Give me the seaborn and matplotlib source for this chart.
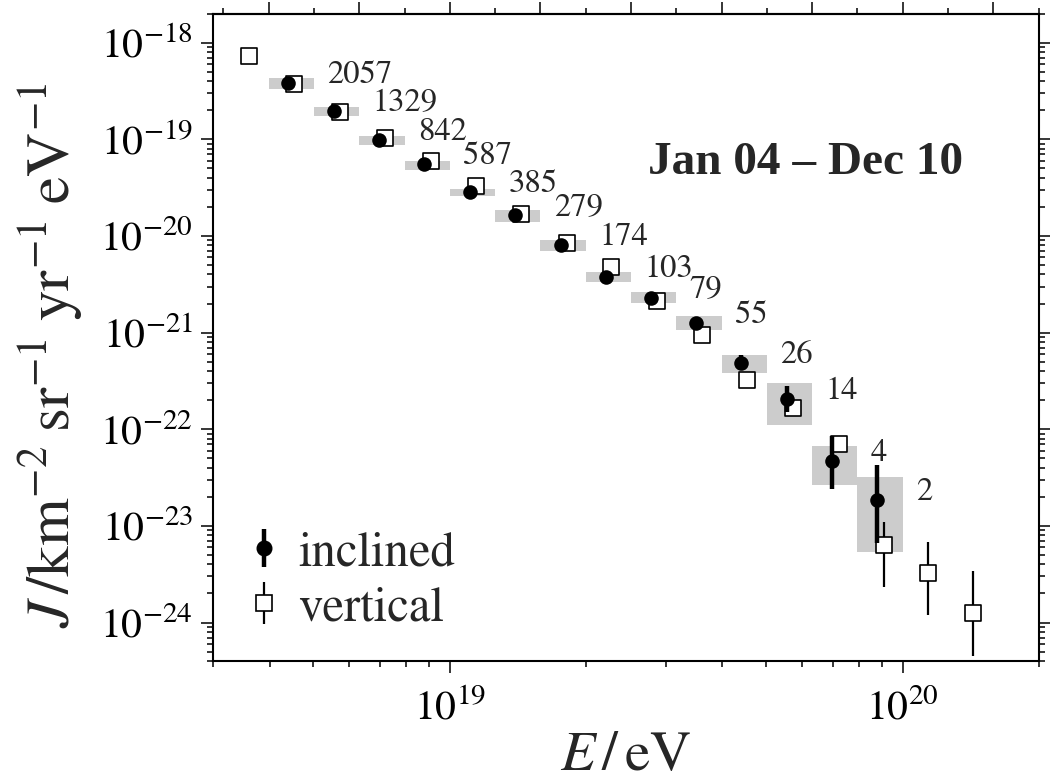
import numpy as np
import matplotlib
matplotlib.use("Agg")
import matplotlib.pyplot as plt
import seaborn as sns
from matplotlib.lines import Line2D
from matplotlib.ticker import LogLocator, NullFormatter, LogFormatterSciNotation, MultipleLocator, FixedLocator

# ---------------- data (log10 values) ----------------
# inclined events: mean energy, flux
inc_log_e = [18.643, 18.744, 18.844, 18.943, 19.044, 19.144, 19.245,
             19.344, 19.444, 19.544, 19.643, 19.744, 19.844, 19.943]
inc_log_j = [-18.414, -18.706, -19.006, -19.258, -19.547, -19.782, -20.092,
             -20.420, -20.637, -20.896, -21.316, -21.685, -22.333, -22.729]
# statistical error bar ends (log10 J)
inc_stat_lo = [-18.424, -18.718, -19.021, -19.276, -19.569, -19.808, -20.125,
               -20.463, -20.687, -20.956, -21.385, -21.826, -22.618, -23.177]
inc_stat_hi = [-18.404, -18.694, -18.991, -19.240, -19.525, -19.756, -20.059,
               -20.377, -20.587, -20.836, -21.230, -21.551, -22.074, -22.374]
# systematic band (log10 J) and bin edges (log10 E)
inc_sys_lo = [-18.479, -18.755, -19.058, -19.316, -19.582, -19.851, -20.154,
              -20.472, -20.695, -20.971, -21.419, -21.953, -22.581, -23.270]
inc_sys_hi = [-18.368, -18.668, -18.962, -19.220, -19.513, -19.730, -20.040,
              -20.368, -20.581, -20.826, -21.230, -21.522, -22.171, -22.498]
bin_lo_log_e = [18.6, 18.7, 18.8, 18.9, 19.0, 19.1, 19.2,
                19.3, 19.4, 19.5, 19.6, 19.7, 19.8, 19.9]
bin_hi_log_e = [18.7, 18.8, 18.9, 19.0, 19.1, 19.2, 19.3,
                19.4, 19.5, 19.6, 19.7, 19.8, 19.9, 20.0]
inc_counts = [2057, 1329, 842, 587, 385, 279, 174, 103, 79, 55, 26, 14, 4, 2]

# vertical events
vert_log_e = [18.556, 18.657, 18.757, 18.856, 18.958, 19.057, 19.157, 19.258,
              19.357, 19.457, 19.556, 19.656, 19.757, 19.860, 19.958, 20.057, 20.156]
vert_log_j = [-18.138, -18.430, -18.720, -18.989, -19.223, -19.482, -19.771, -20.074,
              -20.316, -20.668, -21.023, -21.488, -21.781, -22.153, -23.202, -23.487, -23.901]
vert_err_lo = [-18.143, -18.436, -18.727, -18.998, -19.234, -19.497, -19.790, -20.100,
               -20.350, -20.715, -21.085, -21.570, -21.850, -22.240, -23.632, -23.918, -24.342]
vert_err_hi = [-18.133, -18.424, -18.713, -18.980, -19.212, -19.467, -19.752, -20.048,
               -20.282, -20.621, -20.961, -21.406, -21.712, -22.066, -22.960, -23.166, -23.470]

x_limits = (3e18, 2e20)
y_limits = (4e-25, 2e-18)
x_decades = [1e19, 1e20]
y_decades = [1e-24, 1e-23, 1e-22, 1e-21, 1e-20, 1e-19, 1e-18]
period_text = "Jan 04 – Dec 10"
legend_labels = ["inclined", "vertical"]

# ---------------- style ----------------
sns.set_theme(style="ticks")
plt.rcParams.update({
    "font.family": ["STIXGeneral", "DejaVu Serif"],
    "mathtext.fontset": "stix",
    "axes.linewidth": 1.5,
    "xtick.major.size": 8.5, "xtick.minor.size": 4.5,
    "ytick.major.size": 8.5, "ytick.minor.size": 4.5,
    "xtick.major.width": 1.1, "xtick.minor.width": 1.1,
    "ytick.major.width": 1.1, "ytick.minor.width": 1.1,
    "xtick.color": "black", "ytick.color": "black",
    "axes.edgecolor": "black",
})

E_inc = 10 ** np.array(inc_log_e)
J_inc = 10 ** np.array(inc_log_j)
E_vert = 10 ** np.array(vert_log_e)
J_vert = 10 ** np.array(vert_log_j)

fig = plt.figure(figsize=(10.5, 7.82), dpi=100)
ax = fig.add_axes([213 / 1050, 1 - 661 / 782, (1039 - 213) / 1050, (661 - 13.6) / 782])
ax.set_xscale("log")
ax.set_yscale("log")

# systematic boxes
b_lo = 10 ** np.array(bin_lo_log_e)
b_hi = 10 ** np.array(bin_hi_log_e)
s_lo = 10 ** np.array(inc_sys_lo)
s_hi = 10 ** np.array(inc_sys_hi)
ax.bar(b_lo, s_hi - s_lo, width=b_hi - b_lo, bottom=s_lo, align="edge",
       color="#cccccc", linewidth=0, zorder=1)

# vertical: thin error bars + open squares
v_lo = J_vert - 10 ** np.array(vert_err_lo)
v_hi = 10 ** np.array(vert_err_hi) - J_vert
ax.errorbar(E_vert, J_vert, yerr=[v_lo, v_hi], fmt="none", ecolor="black",
            elinewidth=1.6, capsize=0, zorder=2)
sns.scatterplot(x=E_vert, y=J_vert, marker="s", s=120, color="white",
                edgecolor="black", linewidth=1.2, zorder=3, ax=ax, legend=False)

# inclined: thick error bars + filled circles
i_lo = J_inc - 10 ** np.array(inc_stat_lo)
i_hi = 10 ** np.array(inc_stat_hi) - J_inc
ax.errorbar(E_inc, J_inc, yerr=[i_lo, i_hi], fmt="none", ecolor="black",
            elinewidth=3.2, capsize=0, zorder=4)
sns.scatterplot(x=E_inc, y=J_inc, marker="o", s=110, color="black",
                edgecolor="black", linewidth=0, zorder=5, ax=ax, legend=False)

# event counts
for e, j, n in zip(E_inc, J_inc, inc_counts):
    ax.annotate(str(n), xy=(e, j), xytext=(28, 0), textcoords="offset points",
                ha="left", va="baseline", fontsize=23.5, zorder=6)

ax.set_xlim(*x_limits)
ax.set_ylim(*y_limits)

# ticks
ax.xaxis.set_major_locator(FixedLocator(x_decades))
ax.xaxis.set_minor_locator(LogLocator(base=10, subs=np.arange(2, 10), numticks=100))
ax.xaxis.set_major_formatter(LogFormatterSciNotation())
ax.xaxis.set_minor_formatter(NullFormatter())
ax.yaxis.set_major_locator(FixedLocator(y_decades))
ax.yaxis.set_major_formatter(LogFormatterSciNotation())
ax.yaxis.set_minor_locator(LogLocator(base=10, subs=np.arange(2, 10), numticks=100))
ax.yaxis.set_minor_formatter(NullFormatter())
ax.tick_params(axis="both", which="both", direction="out", labelsize=30)
ax.tick_params(axis="y", which="both", right=True, left=True)
ax.tick_params(axis="x", which="major", pad=12)
ax.tick_params(axis="y", which="major", pad=6)

top = ax.secondary_xaxis("top", functions=(np.log10, lambda v: 10 ** v))
top.xaxis.set_major_locator(MultipleLocator(0.2))
top.xaxis.set_minor_locator(MultipleLocator(0.1))
top.xaxis.set_major_formatter(NullFormatter())
top.xaxis.set_minor_formatter(NullFormatter())
top.tick_params(axis="x", which="both", labeltop=False, labelbottom=False, direction="out")
top.tick_params(axis="x", which="major", length=9, width=1.1)
top.tick_params(axis="x", which="minor", length=4.5, width=1.1)

ax.set_xlabel(r"$E\,/\,\mathrm{eV}$", fontsize=41, labelpad=2)
ax.set_ylabel(r"$J\,/\mathrm{km}^{-2}\;\mathrm{sr}^{-1}\;\mathrm{yr}^{-1}\;\mathrm{eV}^{-1}$",
              fontsize=44)
ax.yaxis.set_label_coords(-0.155, 0.472)

ax.text(0.717, 0.753, period_text, transform=ax.transAxes, ha="center", va="baseline",
        fontsize=34, fontweight="bold", family=["Liberation Serif", "DejaVu Serif"])

# legend
h_inc = (Line2D([], [], ls="none", marker="|", markersize=28, markeredgewidth=3.2, color="black"),
         Line2D([], [], ls="none", marker="o", markersize=10.5, color="black"))
h_vert = (Line2D([], [], ls="none", marker="|", markersize=30, markeredgewidth=1.6, color="black"),
          Line2D([], [], ls="none", marker="s", markersize=11, markerfacecolor="white",
                 markeredgecolor="black", markeredgewidth=1.2))
ax.legend([h_inc, h_vert], legend_labels, loc="lower left", bbox_to_anchor=(0.044, 0.046),
          frameon=False, fontsize=35, handlelength=0.6, handletextpad=0.4,
          labelspacing=0.2, borderpad=0, borderaxespad=0)

fig.savefig("out.png", dpi=100)
